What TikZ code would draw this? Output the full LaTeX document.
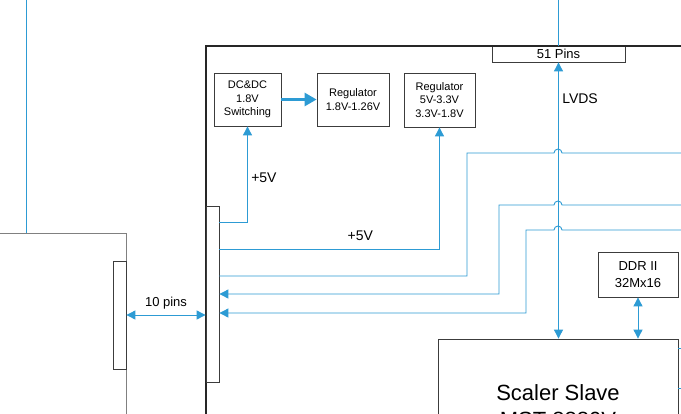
\documentclass[tikz,border=0pt]{standalone}
\usepackage{fontspec}
\setmainfont{Liberation Sans}
\usetikzlibrary{arrows.meta, positioning, calc}
\definecolor{wireblue}{RGB}{45,155,212}
\definecolor{boxgray}{RGB}{60,60,60}

\begin{document}
\begin{tikzpicture}[
  x=1pt, y=-1pt,
  wire/.style={draw=wireblue, line width=0.9pt},
  arrow/.style={wire, -{Stealth[length=9pt, width=9pt, inset=0pt]}},
  dblarrow/.style={wire, {Stealth[length=9pt, width=9pt, inset=0pt]}-{Stealth[length=9pt, width=9pt, inset=0pt]}},
  fatarrow/.style={draw=wireblue, line width=2.6pt, -{Stealth[length=12pt, width=13pt, inset=0pt]}},
  part/.style={rectangle, draw=boxgray, line width=0.8pt, fill=white, align=center, inner sep=0pt, font=\fontsize{11}{13.3}\selectfont},
  pinstrip/.style={rectangle, draw=boxgray, line width=0.8pt, fill=white, inner sep=0pt},
  board/.style={rectangle, draw=black!85, line width=2pt, inner sep=0pt},
  hostboard/.style={rectangle, draw=gray, line width=1pt, inner sep=0pt},
  sig/.style={font=\fontsize{14}{16}\selectfont}
]
  \clip (0,0) rectangle (681,413);
  \fill[white] (0,0) rectangle (681,413);

  % Boards
  \node[part, minimum width=133pt, minimum height=16pt, font=\fontsize{13}{15}\selectfont] (pins) at (558.5,54) {51 Pins};
  \node[board, minimum width=694pt, minimum height=554pt] (main) at (553,323) {};
  \node[hostboard, minimum width=326pt, minimum height=367pt] (host) at (-37,416.5) {};
  \node[pinstrip, minimum width=13pt, minimum height=176pt] (conn) at (212.5,294) {};
  \node[pinstrip, minimum width=13pt, minimum height=108pt] (hostconn) at (119.5,315) {};

  % Power parts
  \node[part, minimum width=67pt, minimum height=53pt] (dcdc) at (247.5,99.5) {DC\&DC\\1.8V\\Switching};
  \node[part, minimum width=72pt, minimum height=53pt] (reg1) at (353,99.5) {Regulator\\1.8V-1.26V};
  \node[part, minimum width=71pt, minimum height=54pt] (reg2) at (439.5,100) {Regulator\\5V-3.3V\\3.3V-1.8V};

  % Scaler and memory
  \node[part, minimum width=80pt, minimum height=45pt, font=\fontsize{13}{17}\selectfont] (ddr) at (638,274.5) {DDR II\\32Mx16};
  \node[part, minimum width=240pt, minimum height=134pt, font=\fontsize{22}{27}\selectfont] (scaler) at (558,406) {Scaler Slave\\MST 8880V};

  \coordinate (uplink) at (26,-10);
  \coordinate (bus1) at (700,153);
  \coordinate (bus2) at (700,205);
  \coordinate (bus3) at (700,230);

  % +5V feeds
  \draw[arrow] (conn.east |- 0,222) -| (dcdc.south) node[pos=0.73, right, sig] {+5V};
  \draw[arrow] (conn.east |- 0,249) -| (reg2.south) node[pos=0.32, above, yshift=5pt, sig] {+5V};
  \draw[fatarrow] (dcdc) -- (reg1);

  % Signal lines, hopping over LVDS
  \draw[wire] (conn.east |- 0,276) -| (467,153) -- (554,153) arc (180:360:4) -- (bus1);
  \draw[arrow] (bus2) -- (562,205) arc (0:-180:4) -- (499,205) |- (conn.east |- 0,294);
  \draw[arrow] (bus3) -- (562,230) arc (0:-180:4) -- (526,230) |- (conn.east |- 0,313);

  % LVDS
  \draw[wire] (pins.north |- 0,-10) -- (pins.north);
  \draw[dblarrow] (pins.south) -- (pins.south |- scaler.north) node[pos=0.13, right, sig] {LVDS};
  \draw[dblarrow] (ddr.south) -- (ddr.south |- scaler.north);
  \draw[wire] (scaler.east |- 0,348) -- +(10,0);
  \draw[wire] (scaler.east |- 0,388) -- +(10,0);

  % Host link
  \draw[wire] (uplink) -- (uplink |- host.north);
  \draw[dblarrow] (hostconn.east) -- (hostconn.east -| conn.west) node[midway, above, yshift=2pt, sig, font=\fontsize{13}{15}\selectfont] {10 pins};

\end{tikzpicture}
\end{document}
